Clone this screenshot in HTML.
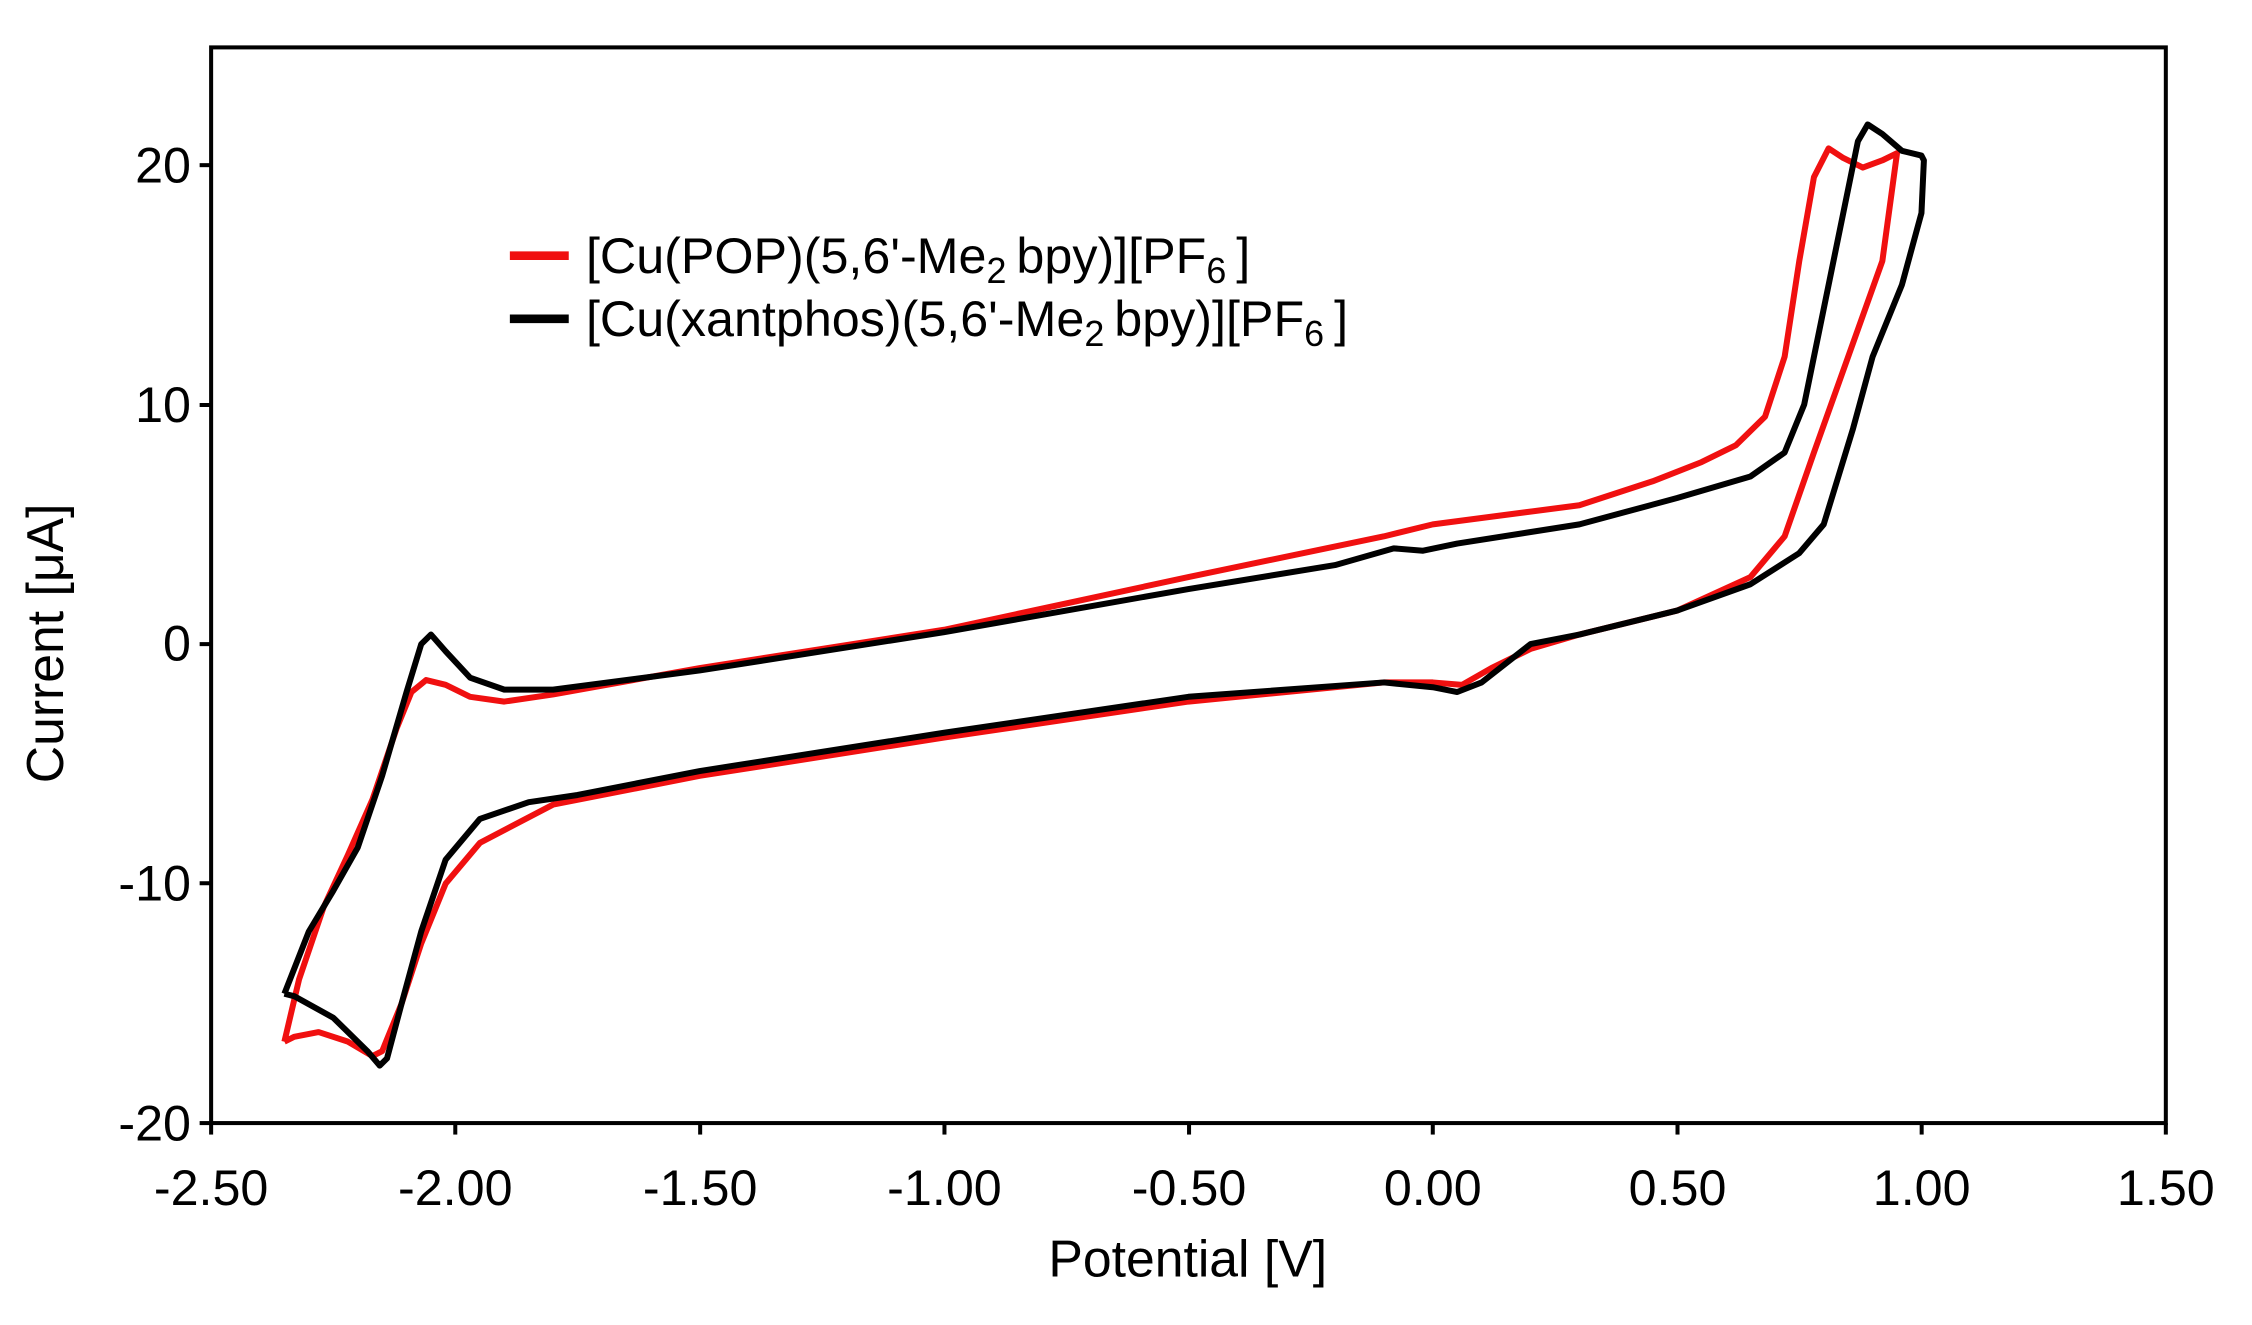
<!DOCTYPE html>
<html><head><meta charset="utf-8"><style>html,body{margin:0;padding:0;background:#fff}svg{display:block}</style></head>
<body>
<svg width="2252" height="1325" viewBox="0 0 1568 922.6" preserveAspectRatio="none" xmlns="http://www.w3.org/2000/svg" font-family="Liberation Sans, sans-serif">
<rect x="0" y="0" width="1568" height="923" fill="#fff"/>
<g transform="translate(997.6,448.5) scale(340.25,-16.675)" fill="none" stroke-linejoin="round">
<polyline vector-effect="non-scaling-stroke" stroke="#f01010" stroke-width="6" points="-2.35,-16.6 -2.32,-14 -2.27,-11 -2.22,-8.8 -2.17,-6.5 -2.12,-3.5 -2.09,-2 -2.06,-1.5 -2.02,-1.7 -1.97,-2.2 -1.9,-2.4 -1.8,-2.1 -1.5,-1.0 -1.0,0.6 -0.5,2.8 -0.1,4.5 0,5.0 0.3,5.8 0.45,6.8 0.55,7.6 0.62,8.3 0.68,9.5 0.72,12 0.75,16 0.78,19.5 0.81,20.7 0.84,20.3 0.88,19.9 0.92,20.2 0.95,20.5 0.92,16 0.85,12 0.78,8 0.72,4.5 0.65,2.8 0.5,1.4 0.3,0.4 0.2,-0.2 0.12,-1.0 0.06,-1.7 0.0,-1.6 -0.1,-1.6 -0.5,-2.4 -1.0,-3.9 -1.5,-5.5 -1.8,-6.7 -1.95,-8.3 -2.02,-10 -2.07,-12.5 -2.11,-15 -2.15,-17.0 -2.17,-17.2 -2.22,-16.6 -2.28,-16.2 -2.33,-16.4 -2.35,-16.6"/>
<polyline vector-effect="non-scaling-stroke" stroke="#000" stroke-width="6" points="-2.35,-14.6 -2.3,-12 -2.25,-10.3 -2.2,-8.5 -2.15,-5.5 -2.1,-2 -2.07,0 -2.05,0.4 -2.02,-0.3 -1.97,-1.4 -1.9,-1.9 -1.8,-1.9 -1.5,-1.1 -1.0,0.5 -0.5,2.3 -0.2,3.3 -0.08,4.0 -0.02,3.9 0.05,4.2 0.3,5.0 0.5,6.1 0.65,7.0 0.72,8.0 0.76,10 0.8,14 0.84,18 0.87,21 0.89,21.7 0.92,21.3 0.96,20.6 1.0,20.4 1.005,20.2 1.0,18 0.96,15 0.9,12 0.86,9 0.8,5 0.75,3.8 0.65,2.5 0.5,1.4 0.3,0.4 0.2,0 0.15,-0.8 0.1,-1.6 0.05,-2.0 0.0,-1.8 -0.1,-1.6 -0.5,-2.2 -1.0,-3.7 -1.5,-5.3 -1.75,-6.3 -1.85,-6.6 -1.95,-7.3 -2.02,-9 -2.07,-12 -2.11,-15 -2.14,-17.3 -2.155,-17.6 -2.18,-17.0 -2.25,-15.6 -2.33,-14.7 -2.35,-14.6"/>
</g>
<rect x="147" y="33" width="1361" height="749" fill="none" stroke="#000" stroke-width="2.8"/>
<g stroke="#000" stroke-width="2.8">
<line x1="139" y1="115" x2="147" y2="115"/><line x1="139" y1="282" x2="147" y2="282"/><line x1="139" y1="448.5" x2="147" y2="448.5"/><line x1="139" y1="615" x2="147" y2="615"/><line x1="139" y1="782" x2="147" y2="782"/>
<line x1="147" y1="782" x2="147" y2="790"/><line x1="317" y1="782" x2="317" y2="790"/><line x1="487.5" y1="782" x2="487.5" y2="790"/><line x1="657.6" y1="782" x2="657.6" y2="790"/><line x1="827.9" y1="782" x2="827.9" y2="790"/><line x1="997.6" y1="782" x2="997.6" y2="790"/><line x1="1168" y1="782" x2="1168" y2="790"/><line x1="1338" y1="782" x2="1338" y2="790"/><line x1="1508" y1="782" x2="1508" y2="790"/>
</g>
<g font-size="35" text-anchor="end" fill="#000">
<text x="133" y="127">20</text><text x="133" y="294">10</text><text x="133" y="460">0</text><text x="133" y="627">-10</text><text x="133" y="794">-20</text>
</g>
<g font-size="35" text-anchor="middle" fill="#000">
<text x="147" y="839">-2.50</text><text x="317" y="839">-2.00</text><text x="487.5" y="839">-1.50</text><text x="657.6" y="839">-1.00</text><text x="827.9" y="839">-0.50</text><text x="997.6" y="839">0.00</text><text x="1168" y="839">0.50</text><text x="1338" y="839">1.00</text><text x="1508" y="839">1.50</text>
<text x="827" y="889" font-size="36">Potential [V]</text>
<text transform="translate(44,448) rotate(-90)" font-size="36">Current [μA]</text>
</g>
<line x1="355" y1="178" x2="396" y2="178" stroke="#f01010" stroke-width="6"/>
<line x1="355" y1="222" x2="396" y2="222" stroke="#000" stroke-width="6"/>
<g font-size="35" fill="#000">
<text x="408" y="190">[Cu(POP)(5,6'-Me<tspan font-size="25" dy="7">2 </tspan><tspan dy="-7">bpy)][PF</tspan><tspan font-size="25" dy="7">6 </tspan><tspan dy="-7">]</tspan></text>
<text x="408" y="234">[Cu(xantphos)(5,6'-Me<tspan font-size="25" dy="7">2 </tspan><tspan dy="-7">bpy)][PF</tspan><tspan font-size="25" dy="7">6 </tspan><tspan dy="-7">]</tspan></text>
</g>
</svg>
</body></html>
